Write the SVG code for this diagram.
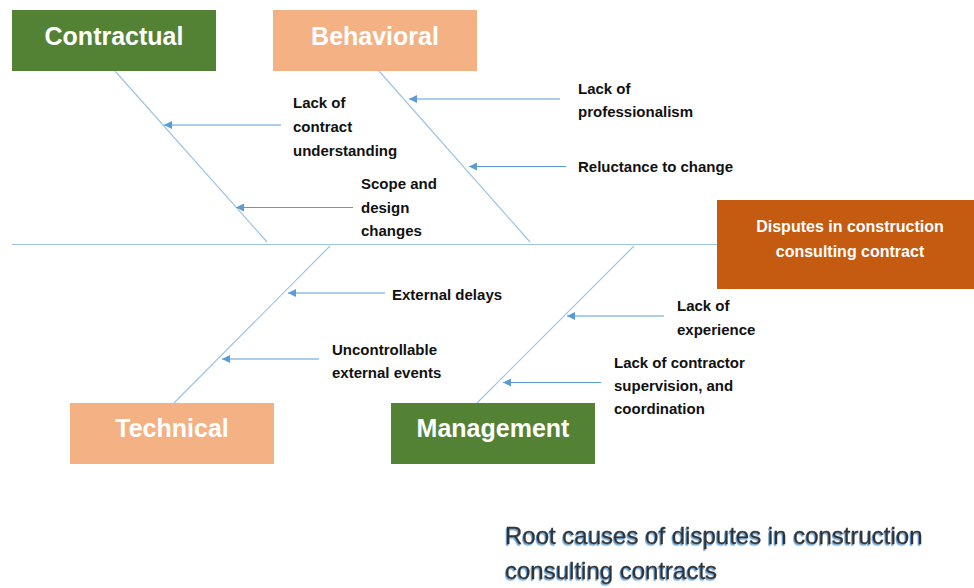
<svg xmlns="http://www.w3.org/2000/svg" width="974" height="588" viewBox="0 0 974 588">
<defs>
<marker id="ah" viewBox="0 0 10 10" refX="0" refY="5" markerWidth="9" markerHeight="8" markerUnits="userSpaceOnUse" orient="auto">
<path d="M0,5 L10,0 L10,10 Z" fill="#5B9BD5"/>
</marker>
<filter id="glow" x="-5%" y="-30%" width="110%" height="160%">
<feDropShadow dx="-1" dy="1.5" stdDeviation="0.6" flood-color="#5B9BD5" flood-opacity="0.9"/>
</filter>
<style>
.box-green{fill:#548235}
.box-peach{fill:#F4B183}
.box-orange{fill:#C55A11}
.title{font-family:"Liberation Sans",Arial,sans-serif;font-weight:bold;font-size:25px;fill:#fff;text-anchor:middle}
.head{font-family:"Liberation Sans",Arial,sans-serif;font-weight:bold;font-size:16px;fill:#fff;text-anchor:middle}
.lbl{font-family:"Liberation Sans",Arial,sans-serif;font-weight:bold;font-size:15px;fill:#111}
.bone{stroke:#9DC3E6;stroke-width:1.2;fill:none}
.arr{stroke:#5B9BD5;stroke-width:1;fill:none;marker-start:url(#ah)}
.cap{font-family:"Liberation Sans",Arial,sans-serif;font-size:24px;fill:#333;stroke:#333;stroke-width:0.3;filter:url(#glow)}
</style>
</defs>
<rect width="974" height="588" fill="#fff"/>

<g id="connectors">
<line class="bone" x1="12" y1="244.5" x2="717" y2="244.5"/>
<line class="bone" x1="115" y1="71" x2="267" y2="242"/>
<line class="bone" x1="379" y1="71" x2="530" y2="242"/>
<line class="bone" x1="330" y1="246" x2="174" y2="403"/>
<line class="bone" x1="634" y1="246" x2="477" y2="403"/>
<line class="arr" x1="164" y1="125" x2="281" y2="125"/>
<line class="arr" x1="236" y1="207.5" x2="353" y2="207.5"/>
<line class="arr" x1="409" y1="99" x2="560" y2="99"/>
<line class="arr" x1="469" y1="166.5" x2="566" y2="166.5"/>
<line class="arr" x1="288" y1="293" x2="385" y2="293"/>
<line class="arr" x1="222" y1="359" x2="319" y2="359"/>
<line class="arr" x1="567" y1="316" x2="664" y2="316"/>
<line class="arr" x1="503" y1="382.5" x2="601" y2="382.5"/>
</g>

<g id="contractual">
<rect class="box-green" x="12" y="10" width="204" height="61"/>
<text class="title" x="114" y="45">Contractual</text>
</g>
<g id="behavioral">
<rect class="box-peach" x="273" y="10" width="204" height="61"/>
<text class="title" x="375" y="45">Behavioral</text>
</g>
<g id="technical">
<rect class="box-peach" x="70" y="403" width="204" height="61"/>
<text class="title" x="172" y="437">Technical</text>
</g>
<g id="management">
<rect class="box-green" x="391" y="403" width="204" height="61"/>
<text class="title" x="493" y="437">Management</text>
</g>
<g id="disputes">
<rect class="box-orange" x="717" y="200" width="257" height="89"/>
<text class="head" x="850" y="232">Disputes in construction</text>
<text class="head" x="850" y="257">consulting contract</text>
</g>

<g id="cause-lack-contract-understanding">
<text class="lbl" x="293" y="108">Lack of</text>
<text class="lbl" x="293" y="132">contract</text>
<text class="lbl" x="293" y="156">understanding</text>
</g>
<g id="cause-scope-design">
<text class="lbl" x="361" y="189">Scope and</text>
<text class="lbl" x="361" y="213">design</text>
<text class="lbl" x="361" y="236">changes</text>
</g>
<g id="cause-professionalism">
<text class="lbl" x="578" y="94">Lack of</text>
<text class="lbl" x="578" y="117">professionalism</text>
</g>
<g id="cause-reluctance">
<text class="lbl" x="578" y="172">Reluctance to change</text>
</g>
<g id="cause-external-delays">
<text class="lbl" x="392" y="300">External delays</text>
</g>
<g id="cause-uncontrollable">
<text class="lbl" x="332" y="355">Uncontrollable</text>
<text class="lbl" x="332" y="378">external events</text>
</g>
<g id="cause-experience">
<text class="lbl" x="677" y="311">Lack of</text>
<text class="lbl" x="677" y="335">experience</text>
</g>
<g id="cause-supervision">
<text class="lbl" x="614" y="368">Lack of contractor</text>
<text class="lbl" x="614" y="391">supervision, and</text>
<text class="lbl" x="614" y="414">coordination</text>
</g>

<g id="caption">
<text class="cap" x="505" y="544">Root causes of disputes in construction</text>
<text class="cap" x="505" y="579">consulting contracts</text>
</g>
</svg>
